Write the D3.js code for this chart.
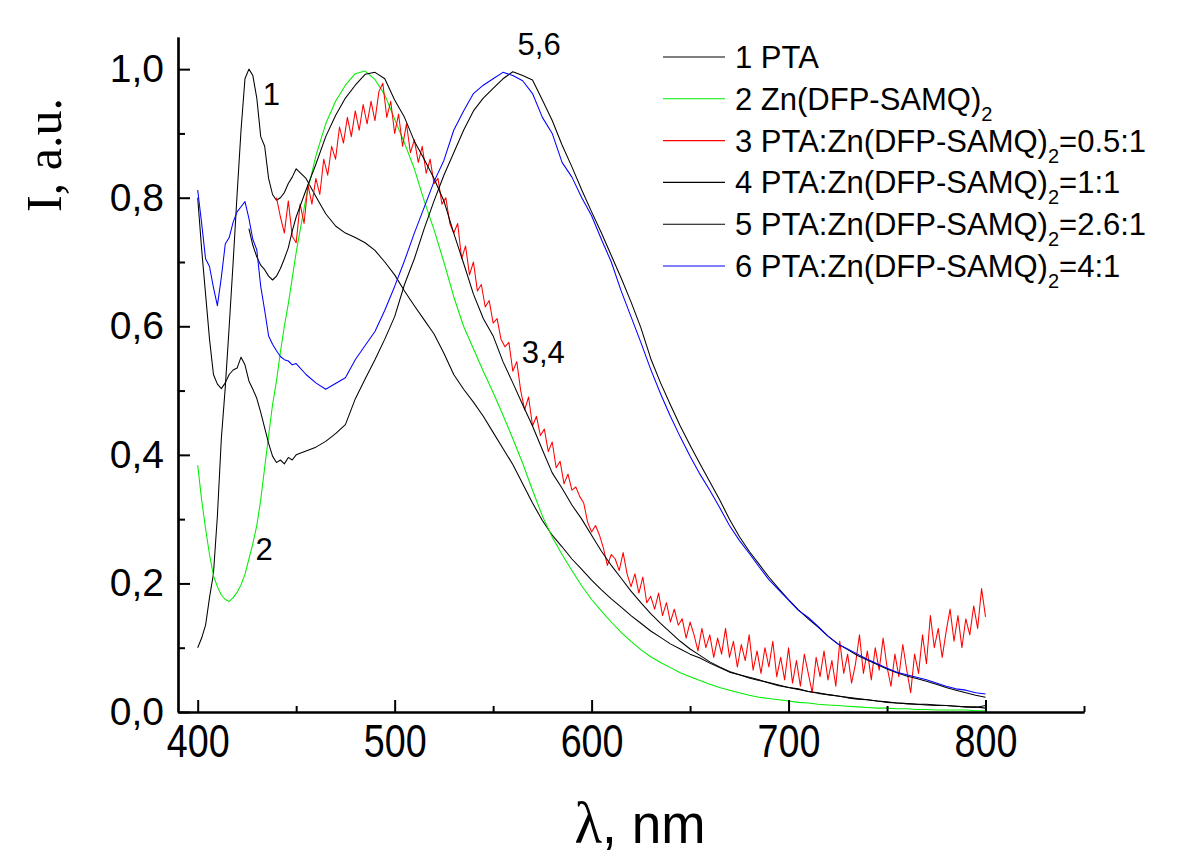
<!DOCTYPE html>
<html><head><meta charset="utf-8">
<script src="https://cdn.jsdelivr.net/npm/d3@7/dist/d3.min.js"></script>
<style>
html,body{margin:0;padding:0;background:#fff;}
svg{display:block;}
</style></head>
<body>
<script>
// ---------------- DATA ----------------
// wavelength grid (nm) shared by curves 1,2,4,5,6
const wavelengths = d3.range(400, 450, 2).concat(d3.range(450, 801, 5));
// wavelength grid for curve 3 (starts at 440 nm)
const wavelengthsRed = d3.range(440, 801, 2);

const seriesPTA = [
  0.100,0.115,0.135,0.178,0.215,0.305,0.425,0.505,0.600,0.700,0.805,0.905,0.985,1.000,0.990,0.955,0.895,0.880,0.830,0.805,0.796,0.800,0.808,0.822,0.832,0.845,
  0.830,0.802,0.775,0.756,0.745,0.738,0.730,0.718,0.700,0.680,
  0.655,0.632,0.610,0.588,0.558,0.525,0.502,0.482,0.460,0.435,
  0.410,0.385,0.355,0.325,0.298,0.275,0.257,0.238,0.222,0.205,
  0.190,0.176,0.163,0.150,0.138,0.126,0.116,0.106,0.098,0.090,
  0.084,0.076,0.069,0.062,0.058,0.054,0.050,0.045,0.041,0.038,
  0.036,0.032,0.029,0.027,0.025,0.023,0.021,0.019,0.017,0.016,
  0.014,0.013,0.012,0.012,0.011,0.010,0.009,0.008,0.008,0.006];

const seriesZn = [
  0.384,0.330,0.285,0.245,0.212,0.195,0.182,0.175,0.172,0.178,0.186,0.198,0.214,0.238,0.262,0.290,0.330,0.380,0.430,0.478,0.515,0.560,0.600,0.635,0.675,0.715,
  0.800,0.865,0.915,0.950,0.975,0.993,0.997,0.984,0.960,0.922,
  0.885,0.845,0.795,0.750,0.700,0.646,0.600,0.565,0.530,0.497,
  0.462,0.425,0.387,0.345,0.305,0.272,0.245,0.220,0.196,0.175,
  0.157,0.140,0.124,0.110,0.097,0.086,0.077,0.069,0.061,0.055,
  0.049,0.043,0.038,0.034,0.030,0.026,0.023,0.021,0.019,0.017,
  0.015,0.014,0.012,0.011,0.010,0.009,0.008,0.007,0.006,0.006,
  0.005,0.005,0.004,0.004,0.003,0.003,0.003,0.003,0.002,0.002];

const seriesMix05 = [
  0.800,0.770,0.745,0.795,0.740,0.730,0.790,0.760,0.820,0.790,
  0.830,0.805,0.860,0.835,0.880,0.860,0.910,0.885,0.925,0.895,
  0.935,0.905,0.945,0.915,0.950,0.920,0.965,0.978,0.925,0.950,
  0.900,0.930,0.880,0.915,0.870,0.890,0.855,0.880,0.838,0.860,
  0.822,0.830,0.790,0.800,0.760,0.745,0.760,0.705,0.725,0.680,
  0.700,0.655,0.665,0.630,0.640,0.605,0.612,0.580,0.568,0.575,
  0.530,0.545,0.500,0.470,0.490,0.445,0.460,0.430,0.440,0.405,
  0.420,0.380,0.390,0.355,0.370,0.345,0.350,0.335,0.325,0.295,
  0.280,0.290,0.275,0.255,0.228,0.245,0.238,0.220,0.248,0.215,
  0.195,0.215,0.185,0.210,0.170,0.180,0.160,0.185,0.150,0.170,
  0.140,0.160,0.135,0.145,0.115,0.140,0.120,0.095,0.130,0.100,
  0.120,0.085,0.115,0.090,0.130,0.085,0.110,0.070,0.105,0.080,
  0.120,0.065,0.095,0.060,0.100,0.070,0.110,0.055,0.085,0.050,
  0.100,0.045,0.080,0.040,0.090,0.060,0.030,0.085,0.055,0.095,
  0.050,0.080,0.040,0.110,0.060,0.090,0.045,0.075,0.120,0.060,
  0.095,0.050,0.100,0.065,0.115,0.070,0.040,0.090,0.055,0.105,
  0.065,0.030,0.090,0.060,0.120,0.075,0.150,0.100,0.130,0.085,
  0.125,0.160,0.110,0.150,0.100,0.145,0.120,0.165,0.130,0.192,
  0.148];

const seriesMix1 = [
  null,null,null,null,null,null,null,null,null,null,null,null,null,0.752,0.726,0.708,0.695,0.688,0.678,0.672,0.678,0.690,0.705,0.722,0.748,0.770,
  0.812,0.852,0.895,0.928,0.955,0.975,0.992,0.995,0.985,0.952,
  0.925,0.888,0.860,0.830,0.795,0.745,0.698,0.650,0.612,0.585,
  0.545,0.512,0.478,0.445,0.408,0.372,0.348,0.322,0.300,0.275,
  0.250,0.228,0.208,0.188,0.170,0.153,0.138,0.124,0.110,0.098,
  0.088,0.078,0.070,0.063,0.058,0.053,0.049,0.046,0.042,0.038,
  0.035,0.032,0.030,0.027,0.025,0.022,0.020,0.019,0.017,0.015,
  0.014,0.013,0.012,0.011,0.010,0.010,0.009,0.008,0.007,0.010];

const seriesMix26 = [
  0.800,0.720,0.650,0.580,0.525,0.510,0.503,0.512,0.525,0.532,0.535,0.552,0.540,0.515,0.502,0.488,0.466,0.442,0.418,0.398,0.388,0.392,0.386,0.396,0.392,0.400,
  0.406,0.412,0.421,0.433,0.447,0.487,0.518,0.548,0.580,0.615,
  0.665,0.705,0.752,0.795,0.835,0.870,0.905,0.935,0.955,0.970,
  0.985,0.996,0.990,0.983,0.952,0.920,0.882,0.848,0.812,0.778,
  0.745,0.710,0.675,0.638,0.598,0.550,0.512,0.478,0.445,0.415,
  0.386,0.358,0.330,0.300,0.273,0.250,0.230,0.210,0.192,0.175,
  0.159,0.145,0.132,0.118,0.106,0.097,0.088,0.081,0.074,0.067,
  0.061,0.056,0.052,0.048,0.043,0.038,0.034,0.030,0.026,0.023];

const seriesMix4 = [
  0.812,0.760,0.705,0.693,0.660,0.632,0.676,0.728,0.738,0.762,0.778,0.786,0.794,0.768,0.735,0.719,0.662,0.625,0.585,0.572,0.562,0.553,0.548,0.546,0.540,0.542,
  0.525,0.512,0.502,0.511,0.520,0.548,0.570,0.592,0.625,0.662,
  0.702,0.745,0.785,0.825,0.858,0.905,0.935,0.962,0.975,0.985,
  0.995,0.990,0.982,0.962,0.925,0.900,0.855,0.832,0.800,0.772,
  0.735,0.700,0.655,0.615,0.575,0.533,0.495,0.460,0.428,0.398,
  0.370,0.345,0.318,0.290,0.267,0.247,0.226,0.206,0.190,0.174,
  0.158,0.147,0.133,0.118,0.106,0.098,0.090,0.082,0.075,0.068,
  0.062,0.058,0.054,0.050,0.045,0.040,0.036,0.034,0.030,0.028];

const seriesNames = ["1 PTA", "2 Zn(DFP-SAMQ)", "3 PTA:Zn(DFP-SAMQ)", "4 PTA:Zn(DFP-SAMQ)", "5 PTA:Zn(DFP-SAMQ)", "6 PTA:Zn(DFP-SAMQ)"];
const seriesSubs  = ["", "2", "2", "2", "2", "2"];
const seriesTails = ["", "", "=0.5:1", "=1:1", "=2.6:1", "=4:1"];
const seriesColors = ["#000000", "#00ee00", "#ff0000", "#000000", "#000000", "#0000ff"];

const xMajorTicks = [400, 500, 600, 700, 800];
const xMinorTicks = [450, 550, 650, 750, 850];
const yMajorTicks = [0, 0.2, 0.4, 0.6, 0.8, 1.0];
const yMinorTicks = [0.1, 0.3, 0.5, 0.7, 0.9];

const curveLabels = [
  {text: "1",   nm: 433,   v: 0.944},
  {text: "2",   nm: 429.4, v: 0.236},
  {text: "3,4", nm: 564.5, v: 0.543},
  {text: "5,6", nm: 562.4, v: 1.022}
];

// ---------------- CHART ----------------
const W = 1200, H = 862;
const svg = d3.select("body").append("svg").attr("width", W).attr("height", H)
  .style("background", "#fff");

const x = d3.scaleLinear().domain([390, 850]).range([178, 1084]);
const y = d3.scaleLinear().domain([0, 1.05]).range([712, 37]);

const sans = "'Liberation Sans', Arial, Helvetica, sans-serif";
const serif = "'Liberation Serif', 'Times New Roman', serif";

// series
const series = [
  {xs: wavelengths, ys: seriesPTA},
  {xs: wavelengths, ys: seriesZn},
  {xs: wavelengthsRed, ys: seriesMix05},
  {xs: wavelengths, ys: seriesMix1},
  {xs: wavelengths, ys: seriesMix26},
  {xs: wavelengths, ys: seriesMix4}
];
const line = d3.line()
  .defined(d => d[1] !== null)
  .x(d => x(d[0])).y(d => y(d[1]));

const plot = svg.append("g");
series.forEach((s, i) => {
  const pts = s.xs.map((w, k) => [w, s.ys[k]]);
  plot.append("path")
    .attr("d", line(pts))
    .attr("fill", "none")
    .attr("stroke", seriesColors[i])
    .attr("stroke-width", 1.05)
    .attr("stroke-linejoin", "round");
});

// axes
const xAxisMajor = d3.axisBottom(x).tickValues(xMajorTicks).tickSizeInner(-12).tickSizeOuter(0).tickPadding(12);
const xAxisMinor = d3.axisBottom(x).tickValues(xMinorTicks).tickSizeInner(-6).tickSizeOuter(0).tickFormat("");
const yAxisMajor = d3.axisLeft(y).tickValues(yMajorTicks).tickSizeInner(-12).tickSizeOuter(0).tickPadding(14)
  .tickFormat(d => d.toFixed(1).replace(".", ","));
const yAxisMinor = d3.axisLeft(y).tickValues(yMinorTicks).tickSizeInner(-7).tickSizeOuter(0).tickFormat("");

function styleAxis(g) {
  g.selectAll("path.domain").attr("stroke", "#000").attr("stroke-width", 2.2);
  g.selectAll(".tick line").attr("stroke", "#000").attr("stroke-width", 2);
}

const gx = svg.append("g").attr("transform", `translate(0,${y(0)})`).call(xAxisMajor).call(styleAxis);
gx.selectAll(".tick text").attr("font-family", sans).attr("font-size", 46).attr("fill", "#000")
  .attr("transform", "scale(0.82,1)");
svg.append("g").attr("transform", `translate(0,${y(0)})`).call(xAxisMinor).call(styleAxis);

const gy = svg.append("g").attr("transform", `translate(${x(390)},0)`).call(yAxisMajor).call(styleAxis);
gy.selectAll(".tick text").attr("font-family", sans).attr("font-size", 39).attr("fill", "#000");
svg.append("g").attr("transform", `translate(${x(390)},0)`).call(yAxisMinor).call(styleAxis);

// axis titles
svg.append("text")
  .attr("transform", `translate(61,155) rotate(-90)`)
  .attr("text-anchor", "middle")
  .attr("font-family", serif).attr("font-size", 50).attr("fill", "#000")
  .text("I, a.u.");

const xt = svg.append("g").attr("transform", `translate(640,843) scale(0.95,1)`)
  .append("text").attr("text-anchor", "middle").attr("fill", "#000");
xt.append("tspan").attr("font-family", serif).attr("font-size", 60).text("λ");
xt.append("tspan").attr("font-family", sans).attr("font-size", 56).text(", nm");

// curve labels
svg.selectAll("text.clabel").data(curveLabels).enter().append("text")
  .attr("class", "clabel")
  .attr("x", d => x(d.nm)).attr("y", d => y(d.v))
  .attr("font-family", sans).attr("font-size", 31).attr("fill", "#000")
  .text(d => d.text);

// legend
const legend = svg.append("g");
seriesNames.forEach((name, i) => {
  const ly = 57 + i * 41.8;
  legend.append("line")
    .attr("x1", 663).attr("x2", 725).attr("y1", ly).attr("y2", ly)
    .attr("stroke", seriesColors[i]).attr("stroke-width", 1.1);
  const t = legend.append("text")
    .attr("x", 735).attr("y", ly + 11)
    .attr("font-family", sans).attr("font-size", 31).attr("fill", "#000");
  t.append("tspan").text(name);
  if (seriesSubs[i]) {
    t.append("tspan").attr("font-size", 20).attr("dy", 11).text(seriesSubs[i]);
    if (seriesTails[i]) t.append("tspan").attr("dy", -11).text(seriesTails[i]);
  }
});
</script>
</body></html>
